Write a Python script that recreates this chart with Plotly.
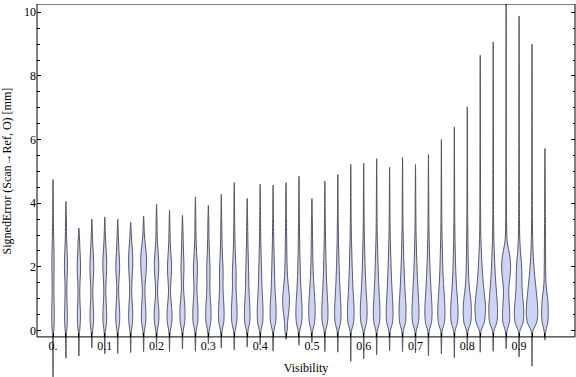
import plotly.graph_objects as go

# ---------------- data ----------------
visibility = [0.000, 0.025, 0.050, 0.075, 0.100, 0.125, 0.150, 0.175, 0.200, 0.225,
              0.250, 0.275, 0.300, 0.325, 0.350, 0.375, 0.400, 0.425, 0.450, 0.475,
              0.500, 0.525, 0.550, 0.575, 0.600, 0.625, 0.650, 0.675, 0.700, 0.725,
              0.750, 0.775, 0.800, 0.825, 0.850, 0.875, 0.900, 0.925, 0.950]

err_min = [-1.50, -0.87, -0.80, -0.55, -0.73, -0.72, -0.69, -0.66, -0.55, -0.66,
           -0.58, -0.65, -0.42, -0.55, -0.60, -0.52, -0.45, -0.65, -0.28, -0.46,
           -0.38, -0.66, -0.68, -0.97, -0.89, -0.76, -0.63, -0.66, -0.70, -0.80,
           -0.74, -0.85, -0.62, -0.68, -0.65, -0.57, -0.83, -1.12, -0.30]

err_max = [4.75, 4.06, 3.22, 3.50, 3.57, 3.50, 3.40, 3.60, 3.97, 3.78,
           3.62, 4.20, 3.93, 4.28, 4.65, 4.15, 4.60, 4.57, 4.65, 4.85,
           4.15, 4.70, 4.90, 5.22, 5.25, 5.40, 5.13, 5.44, 5.22, 5.53,
           6.00, 6.40, 7.03, 8.65, 9.07, 10.30, 9.88, 9.00, 5.72]

# density profile levels (SignedError, mm) and relative density (half-width) per violin
density_levels = [0.0, 0.25, 0.5, 0.75, 1.0, 1.25, 1.5, 1.75, 2.0, 2.25, 2.5, 2.75, 3.0]
density = [
    [0.8, 1.2, 1.3, 1.2, 1.0, 0.9, 0.9, 1.0, 1.1, 1.1, 1.0, 0.8, 0.6],
    [0.8, 1.3, 1.4, 1.2, 1.0, 0.9, 1.0, 1.3, 1.5, 1.4, 1.1, 0.8, 0.6],
    [0.8, 1.4, 1.6, 1.3, 1.0, 0.9, 1.1, 1.5, 1.7, 1.5, 1.1, 0.8, 0.5],
    [0.8, 1.6, 1.8, 1.5, 1.1, 1.0, 1.3, 1.7, 1.9, 1.7, 1.3, 0.9, 0.6],
    [0.8, 1.7, 1.9, 1.6, 1.2, 1.0, 1.2, 1.6, 1.9, 1.8, 1.4, 0.9, 0.6],
    [0.8, 1.8, 2.0, 1.7, 1.2, 0.9, 1.1, 1.6, 1.9, 1.7, 1.2, 0.9, 0.6],
    [0.8, 1.8, 2.1, 1.8, 1.3, 1.0, 1.2, 1.6, 2.0, 2.1, 1.8, 1.2, 0.7],
    [0.8, 2.0, 2.3, 2.0, 1.5, 1.3, 1.6, 2.3, 2.8, 2.9, 2.4, 1.5, 0.8],
    [0.8, 2.1, 2.4, 2.0, 1.3, 1.0, 1.3, 1.9, 2.2, 2.0, 1.5, 0.9, 0.6],
    [0.8, 2.2, 2.5, 2.1, 1.4, 1.0, 1.3, 1.8, 2.0, 1.7, 1.2, 0.8, 0.6],
    [0.8, 2.2, 2.6, 2.4, 1.8, 1.2, 1.1, 1.3, 1.5, 1.3, 1.0, 0.8, 0.6],
    [0.8, 2.3, 2.6, 2.4, 1.9, 1.5, 1.6, 1.9, 2.0, 1.6, 1.1, 0.8, 0.6],
    [0.8, 2.3, 2.7, 2.5, 2.0, 1.6, 1.5, 1.6, 1.6, 1.3, 1.0, 0.8, 0.6],
    [0.8, 2.4, 2.8, 2.6, 2.2, 1.8, 1.7, 1.8, 1.7, 1.3, 1.0, 0.8, 0.6],
    [0.8, 2.4, 2.8, 2.7, 2.3, 1.9, 1.8, 1.9, 1.7, 1.3, 1.0, 0.8, 0.6],
    [0.8, 2.4, 2.8, 2.6, 2.2, 1.8, 1.6, 1.5, 1.3, 1.1, 0.9, 0.7, 0.6],
    [0.8, 2.5, 2.9, 2.8, 2.4, 2.0, 1.7, 1.5, 1.3, 1.1, 0.9, 0.7, 0.6],
    [0.8, 2.5, 3.0, 2.9, 2.5, 2.0, 1.7, 1.5, 1.3, 1.1, 0.9, 0.7, 0.6],
    [1.2, 1.5, 2.4, 3.2, 3.4, 2.8, 2.0, 1.4, 1.1, 0.9, 0.8, 0.7, 0.6],
    [0.8, 2.6, 3.1, 3.0, 2.6, 2.1, 1.7, 1.4, 1.2, 1.0, 0.8, 0.7, 0.6],
    [0.8, 2.6, 3.2, 3.2, 2.8, 2.3, 1.8, 1.4, 1.1, 0.9, 0.8, 0.7, 0.6],
    [0.8, 2.6, 3.1, 3.0, 2.6, 2.2, 1.8, 1.5, 1.3, 1.1, 0.9, 0.7, 0.6],
    [0.8, 2.7, 3.2, 3.1, 2.7, 2.3, 1.9, 1.6, 1.3, 1.1, 0.9, 0.7, 0.6],
    [0.8, 2.8, 3.3, 3.2, 2.8, 2.3, 2.0, 1.7, 1.4, 1.2, 1.0, 0.8, 0.6],
    [0.8, 2.8, 3.4, 3.3, 2.9, 2.4, 2.0, 1.7, 1.4, 1.2, 1.0, 0.8, 0.6],
    [0.8, 2.8, 3.3, 3.2, 2.8, 2.4, 2.0, 1.7, 1.5, 1.2, 1.0, 0.8, 0.6],
    [0.8, 2.9, 3.4, 3.3, 2.9, 2.5, 2.1, 1.8, 1.5, 1.3, 1.0, 0.8, 0.6],
    [0.8, 2.9, 3.4, 3.4, 3.0, 2.5, 2.1, 1.8, 1.5, 1.2, 1.0, 0.8, 0.6],
    [0.8, 2.9, 3.5, 3.4, 3.0, 2.6, 2.2, 1.8, 1.5, 1.2, 1.0, 0.8, 0.6],
    [0.8, 3.0, 3.6, 3.5, 3.1, 2.6, 2.2, 1.8, 1.5, 1.2, 1.0, 0.8, 0.6],
    [0.8, 3.0, 3.6, 3.5, 3.1, 2.6, 2.1, 1.7, 1.4, 1.2, 1.0, 0.8, 0.6],
    [0.8, 3.1, 3.7, 3.6, 3.1, 2.5, 2.0, 1.6, 1.3, 1.1, 0.9, 0.7, 0.6],
    [0.8, 3.4, 4.0, 4.0, 3.4, 2.4, 1.7, 1.3, 1.1, 0.9, 0.8, 0.7, 0.6],
    [0.9, 4.0, 5.0, 5.3, 4.6, 3.8, 3.0, 2.4, 1.9, 1.5, 1.1, 0.8, 0.6],
    [0.8, 3.6, 4.3, 4.3, 3.8, 3.2, 2.6, 2.1, 1.7, 1.4, 1.1, 0.8, 0.6],
    [0.9, 3.2, 3.6, 3.3, 2.8, 2.6, 3.2, 4.0, 4.5, 4.0, 2.8, 1.3, 0.7],
    [0.9, 4.0, 4.7, 4.5, 3.8, 3.2, 2.9, 2.8, 2.6, 2.0, 1.3, 0.9, 0.6],
    [1.0, 4.6, 5.7, 5.6, 5.0, 4.2, 3.4, 2.6, 2.0, 1.4, 1.0, 0.8, 0.6],
    [0.9, 2.8, 3.3, 3.2, 2.7, 1.7, 1.0, 0.8, 0.7, 0.6, 0.6, 0.5, 0.5],
]

x_tick_values = visibility
x_tick_labels = ["0.", "", "", "", "0.1", "", "", "", "0.2", "", "", "", "0.3", "", "", "",
                 "0.4", "", "", "", "0.5", "", "", "", "0.6", "", "", "", "0.7", "", "", "",
                 "0.8", "", "", "", "0.9", "", ""]
y_tick_values = [0, 2, 4, 6, 8, 10]
y_minor_values = [0.5, 1, 1.5, 2.5, 3, 3.5, 4.5, 5, 5.5, 6.5, 7, 7.5, 8.5, 9, 9.5]

# ---------------- styling ----------------
FILL = "rgb(205,212,245)"
EDGE = "rgb(85,85,95)"
WIDTH_SCALE = 1.0 / 517.8   # density unit (~1 px) -> visibility units
FONT = "Liberation Serif"
X_RANGE = [-0.0309, 1.008]
Y_RANGE = [-1.46, 10.26]
FRAME_BOTTOM = -0.2

fig = go.Figure()

for c, lo, hi, prof in zip(visibility, err_min, err_max, density):
    ys = [lo, -0.12]
    ws = [0.0, 0.45]
    for lv, w in zip(density_levels, prof):
        if lv < hi - 0.15:
            ys.append(lv)
            ws.append(w)
    if hi > 3.8:
        ys.append(3.5)
        ws.append(0.4)
    ys.append(hi)
    ws.append(0.0)
    xr = [c + w * WIDTH_SCALE for w in ws]
    xl = [c - w * WIDTH_SCALE for w in ws[1:-1]][::-1]
    yl = ys[1:-1][::-1]
    fig.add_trace(go.Scatter(
        x=xr + xl + [xr[0]], y=ys + yl + [ys[0]],
        mode="lines", fill="toself", fillcolor=FILL,
        line=dict(color=EDGE, width=1, shape="spline", smoothing=0.8, simplify=False),
        hoverinfo="skip", showlegend=False))

fig.update_layout(
    width=576, height=377, autosize=False,
    margin=dict(l=37, r=1, t=4, b=0, autoexpand=False),
    paper_bgcolor="white", plot_bgcolor="white",
    font=dict(family=FONT, size=12, color="black"),
    xaxis=dict(range=X_RANGE, tickmode="array", tickvals=x_tick_values, ticktext=x_tick_labels,
               ticks="inside", ticklen=4, tickcolor="black", showgrid=False, zeroline=False,
               showline=False, mirror="allticks", anchor="free", automargin=False,
               position=(FRAME_BOTTOM - Y_RANGE[0]) / (Y_RANGE[1] - Y_RANGE[0]),
               title=dict(text="Visibility", standoff=11, font=dict(family=FONT, size=12)),
               tickfont=dict(family=FONT, size=12)),
    yaxis=dict(range=Y_RANGE, tickmode="array", tickvals=y_tick_values, automargin=False,
               ticks="inside", ticklen=4, tickcolor="black", showgrid=False, zeroline=False,
               showline=False, mirror="allticks",
               minor=dict(tickmode="array", tickvals=y_minor_values, ticks="inside",
                          ticklen=2.5, tickcolor="black", showgrid=False),
               tickfont=dict(family=FONT, size=12)),
)

# frame (bottom edge sits at FRAME_BOTTOM, violins overhang it as in the original)
fig.add_shape(type="rect", xref="paper", yref="y", x0=0, x1=1, y0=FRAME_BOTTOM, y1=Y_RANGE[1],
              line=dict(color="black", width=1), fillcolor="rgba(0,0,0,0)", layer="above")

fig.add_annotation(text="SignedError (Scan\u2192Ref, O) [mm]", textangle=-90,
                   xref="paper", yref="y", x=-0.054, y=(FRAME_BOTTOM + Y_RANGE[1]) / 2,
                   showarrow=False, font=dict(family=FONT, size=12), xanchor="center", yanchor="middle")

fig.write_html("out.html", config={"responsive": False, "displayModeBar": False},
               post_script="document.body.style.margin='0';document.body.style.padding='0';"
                           "document.body.style.overflow='hidden';")
